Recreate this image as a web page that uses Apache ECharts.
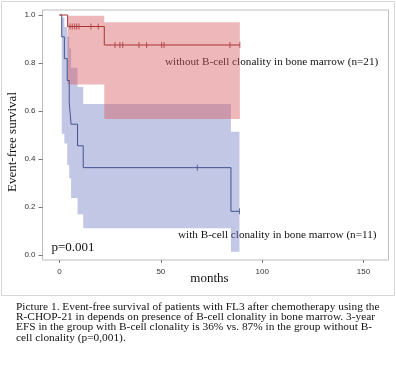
<!DOCTYPE html>
<html>
<head>
<meta charset="utf-8">
<script src="https://cdn.jsdelivr.net/npm/echarts@6/dist/echarts.min.js"></script>
<style>html,body{margin:0;padding:0;background:#fff;}#c{width:396px;height:366px;}</style>
</head>
<body>
<div id="c"></div>
<script>
// ---- data ----
const xTicks = [0, 50, 100, 150];
const yTicks = [0.0, 0.2, 0.4, 0.6, 0.8, 1.0];

// without B-cell clonality (n=21)
const redTimes = [0, 4.0, 22.1, 89.0];
const redSurv = [1.0, 0.952, 0.875, 0.875];
const redCensorTimes = [5.2, 6.3, 7.5, 8.5, 9.6, 15.5, 19.1, 27.4, 29.8, 31.2, 39.2, 43.0, 50.4, 51.6, 84.1, 89.0];
const redCensorSurv = [0.952, 0.952, 0.952, 0.952, 0.952, 0.952, 0.952, 0.875, 0.875, 0.875, 0.875, 0.875, 0.875, 0.875, 0.875, 0.875];
const redBandTimes = [4.0, 22.1, 89.0];
const redBandLower = [0.71, 0.567, 0.567];
const redBandUpper = [0.997, 0.97, 0.97];

// with B-cell clonality (n=11)
const blueTimes = [0, 1.1, 2.4, 3.8, 4.8, 5.7, 8.9, 11.7, 84.6, 88.8];
const blueSurv = [1.0, 0.909, 0.818, 0.727, 0.636, 0.545, 0.455, 0.364, 0.182, 0.182];
const blueCensorTimes = [68.0, 88.8];
const blueCensorSurv = [0.364, 0.182];
const blueBandTimes = [1.1, 2.4, 3.8, 4.8, 5.7, 8.9, 11.7, 84.6, 88.8];
const blueBandLower = [0.505, 0.465, 0.375, 0.32, 0.237, 0.17, 0.111, 0.014, 0.014];
const blueBandUpper = [0.99, 0.95, 0.91, 0.86, 0.78, 0.70, 0.629, 0.514, 0.514];

const labelRed = 'without B-cell clonality in bone marrow (n=21)';
const labelBlue = 'with B-cell clonality in bone marrow (n=11)';
const pText = 'p=0.001';
const xTitle = 'months';
const yTitle = 'Event-free survival';
const captionLines = [
  'Picture 1. Event-free survival of patients with FL3 after chemotherapy using the',
  'R-CHOP-21 in depends on presence of B-cell clonality in bone marrow. 3-year',
  'EFS in the group with B-cell clonality is 36% vs. 87% in the group without B-',
  'cell clonality (p=0,001).'
];

// ---- build ----
const zip = (a, b) => a.map((v, i) => [v, b[i]]);

const RED_LINE = '#a93535';
const BLUE_LINE = '#44528f';
const RED_FILL = 'rgba(216, 88, 94, 0.43)';
const BLUE_FILL = 'rgba(110, 122, 192, 0.42)';
const SERIF = '"Liberation Serif", "Times New Roman", serif';
const SANS = '"Liberation Sans", Arial, sans-serif';

function bandSeries(times, lower, upper, color) {
  return {
    type: 'custom', silent: true, clip: false,
    data: times.map((t, i) => [t, lower[i], upper[i]]),
    encode: { x: 0, y: [1, 2] },
    renderItem: function (params, api) {
      if (params.dataIndex !== 0) return null;
      const n = times.length;
      const pts = [];
      for (let i = 0; i < n - 1; i++) {
        pts.push(api.coord([times[i], upper[i]]));
        pts.push(api.coord([times[i + 1], upper[i]]));
      }
      for (let i = n - 2; i >= 0; i--) {
        pts.push(api.coord([times[i + 1], lower[i]]));
        pts.push(api.coord([times[i], lower[i]]));
      }
      return { type: 'polygon', shape: { points: pts }, style: { fill: color } };
    }
  };
}

const chart = echarts.init(document.getElementById('c'), null, { renderer: 'canvas' });
chart.setOption({
  animation: false,
  backgroundColor: '#fff',
  grid: { left: 42.5, right: 7.5, top: 10, bottom: 106, containLabel: false,
    show: true, borderColor: '#bdbdbd', borderWidth: 1, backgroundColor: 'transparent' },
  xAxis: {
    type: 'value', min: -8.39, max: 162.34,
    axisLine: { show: false, onZero: false },
    axisTick: { show: true, length: 3, lineStyle: { color: '#777' }, customValues: xTicks },
    axisLabel: { fontFamily: SANS, fontSize: 8, color: '#333', margin: 8, customValues: xTicks },
    splitLine: { show: false }
  },
  yAxis: {
    type: 'value', min: -0.0208, max: 1.0208,
    axisLine: { show: false, onZero: false },
    axisTick: { show: true, length: 4, lineStyle: { color: '#777' }, customValues: yTicks },
    axisLabel: { fontFamily: SANS, fontSize: 8, color: '#333', margin: 7, customValues: yTicks,
      formatter: v => v.toFixed(1) },
    splitLine: { show: false }
  },
  series: [
    bandSeries(blueBandTimes, blueBandLower, blueBandUpper, BLUE_FILL),
    bandSeries(redBandTimes, redBandLower, redBandUpper, RED_FILL),
    { type: 'line', step: 'end', symbol: 'none', data: zip(blueTimes, blueSurv), clip: false,
      lineStyle: { color: BLUE_LINE, width: 1 } },
    { type: 'line', step: 'end', symbol: 'none', data: zip(redTimes, redSurv), clip: false,
      lineStyle: { color: RED_LINE, width: 1 } },
    { type: 'scatter', symbol: 'rect', symbolSize: [1, 6], data: zip(blueCensorTimes, blueCensorSurv),
      itemStyle: { color: BLUE_LINE }, clip: false },
    { type: 'scatter', symbol: 'rect', symbolSize: [1, 6], data: zip(redCensorTimes, redCensorSurv),
      itemStyle: { color: RED_LINE }, clip: false }
  ],
  graphic: [
    { type: 'rect', silent: true, z: -1, shape: { x: 1.5, y: 1.5, width: 393, height: 294 },
      style: { fill: 'none', stroke: '#d6d6d6', lineWidth: 1 } },
    { type: 'text', silent: true, style: { text: labelRed, x: 165, y: 62, fill: '#111',
      fontFamily: SERIF, fontSize: 11.2, textAlign: 'left', textVerticalAlign: 'middle' } },
    { type: 'text', silent: true, style: { text: labelBlue, x: 178, y: 235, fill: '#111',
      fontFamily: SERIF, fontSize: 11.2, textAlign: 'left', textVerticalAlign: 'middle' } },
    { type: 'text', silent: true, style: { text: pText, x: 51.5, y: 247.5, fill: '#111',
      fontFamily: SERIF, fontSize: 13, textAlign: 'left', textVerticalAlign: 'middle' } },
    { type: 'text', silent: true, style: { text: xTitle, x: 209.5, y: 279, fill: '#111',
      fontFamily: SERIF, fontSize: 13, textAlign: 'center', textVerticalAlign: 'middle' } },
    { type: 'text', silent: true, rotation: Math.PI / 2, x: 13, y: 142,
      style: { text: yTitle, x: 0, y: 0, fill: '#111',
      fontFamily: SERIF, fontSize: 13, textAlign: 'center', textVerticalAlign: 'middle' } },
    { type: 'text', silent: true, style: { text: captionLines.join('\n'), x: 16, y: 301.5, fill: '#111',
      fontFamily: SERIF, fontSize: 11.35, lineHeight: 10.4, textAlign: 'left', textVerticalAlign: 'top' } }
  ]
});
</script>
</body>
</html>
